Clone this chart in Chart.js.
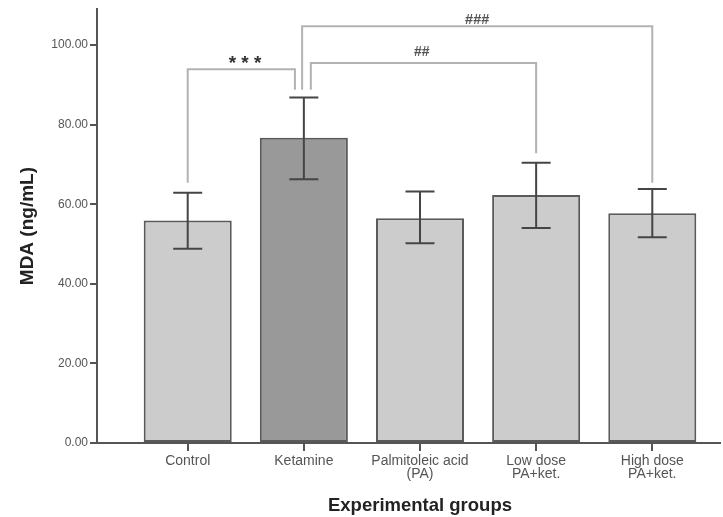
<!DOCTYPE html>
<html><head><meta charset="utf-8">
<script src="https://cdn.jsdelivr.net/npm/chart.js@4/dist/chart.umd.min.js"></script>
<style>html,body{margin:0;padding:0;background:#fff;} #wrap{width:723px;height:517px;position:relative;}</style>
</head><body><div id="wrap"><canvas id="c"></canvas></div>
<script>
// ---- data ----
const categories = [["Control"], ["Ketamine"], ["Palmitoleic acid", "(PA)"], ["Low dose", "PA+ket."], ["High dose", "PA+ket."]];
const meanMDA = [55.9, 76.7, 56.5, 62.3, 57.7];
const errLower = [48.8, 66.3, 50.2, 54.0, 51.7];
const errUpper = [62.9, 86.8, 63.2, 70.4, 63.8];
const yTickValues = [0, 20, 40, 60, 80, 100];
const xTitle = 'Experimental groups';
const yTitle = 'MDA (ng/mL)';
// significance brackets
const sigLabels = ["* * *", "##", "###"];
const sigFrom = [0, 1, 1];
const sigTo = [1, 3, 4];
const sigTop = [93.9, 95.5, 104.7];
const sigLeftEnd = [65.4, 88.75, 88.75];
const sigRightEnd = [88.75, 72.8, 65.4];

const barColors = ['#cccccc', '#999999', '#cccccc', '#cccccc', '#cccccc'];
const FONT = '"Liberation Sans", Arial, sans-serif';

const errorBars = {
  id: 'errorBars',
  afterDatasetsDraw(chart) {
    const xs = chart.scales.x, ys = chart.scales.y, ctx = chart.ctx;
    ctx.save();
    ctx.strokeStyle = '#454545';
    ctx.lineWidth = 2;
    const half = 14.5;
    meanMDA.forEach((m, i) => {
      const x = xs.getPixelForValue(i);
      const yl = ys.getPixelForValue(errLower[i]);
      const yh = ys.getPixelForValue(errUpper[i]);
      ctx.beginPath();
      ctx.moveTo(x, yl); ctx.lineTo(x, yh);
      ctx.moveTo(x - half, yl); ctx.lineTo(x + half, yl);
      ctx.moveTo(x - half, yh); ctx.lineTo(x + half, yh);
      ctx.stroke();
    });
    ctx.restore();
  }
};

const sigBrackets = {
  id: 'sigBrackets',
  afterDraw(chart, args, opts) {
    const xs = chart.scales.x, ys = chart.scales.y, ctx = chart.ctx;
    ctx.save();
    ctx.strokeStyle = '#b2b2b2';
    ctx.lineWidth = 2;
    sigLabels.forEach((lab, k) => {
      const x1 = xs.getPixelForValue(sigFrom[k] + opts.fromNudge[k]);
      const x2 = xs.getPixelForValue(sigTo[k] + opts.toNudge[k]);
      const yt = ys.getPixelForValue(sigTop[k]);
      const y1 = ys.getPixelForValue(sigLeftEnd[k]);
      const y2 = ys.getPixelForValue(sigRightEnd[k]);
      ctx.beginPath();
      ctx.moveTo(x1, y1); ctx.lineTo(x1, yt); ctx.lineTo(x2, yt); ctx.lineTo(x2, y2);
      ctx.stroke();
      ctx.fillStyle = opts.colors[k];
      ctx.font = opts.fonts[k];
      ctx.textAlign = 'center';
      ctx.textBaseline = 'alphabetic';
      ctx.fillText(lab, (x1 + x2) / 2 + opts.textNudge[k], yt - opts.gap[k]);
    });
    // x axis title, centred on the category range
    ctx.fillStyle = '#222222';
    ctx.font = 'bold 18.5px ' + FONT;
    ctx.textAlign = 'center';
    ctx.textBaseline = 'alphabetic';
    ctx.fillText(xTitle, xs.getPixelForValue((categories.length - 1) / 2), chart.height - 6);
    ctx.restore();
  }
};

new Chart(document.getElementById('c'), {
  type: 'bar',
  data: {
    datasets: [{
      data: meanMDA.map((v, i) => ({ x: i, y: v })),
      backgroundColor: barColors,
      borderColor: '#5a5a5a',
      borderWidth: 2,
      borderSkipped: false,
      categoryPercentage: 1,
      barPercentage: 0.758
    }]
  },
  options: {
    responsive: true,
    maintainAspectRatio: false,
    animation: false,
    devicePixelRatio: 1,
    layout: { padding: { top: 9, right: 3, left: 0, bottom: 0 } },
    plugins: {
      legend: { display: false },
      tooltip: { enabled: false },
      sigBrackets: {
        fromNudge: [0, 0.06, -0.015],
        toNudge: [-0.077, 0, 0],
        textNudge: [3.7, -1.8, 0],
        gap: [0.5, 7.3, 2.7],
        fonts: ['bold 19px ' + FONT, 'bold 14px ' + FONT, 'bold 14.5px ' + FONT],
        colors: ['#333333', '#555555', '#555555']
      }
    },
    scales: {
      x: {
        type: 'linear',
        offset: false,
        min: -0.781,
        max: 4.583,
        afterBuildTicks(scale) { scale.ticks = categories.map((_, i) => ({ value: i })); },
        afterFit(scale) { scale.height = 74; },
        ticks: {
          autoSkip: false,
          maxRotation: 0,
          minRotation: 0,
          padding: 4,
          color: '#555555',
          font: { family: FONT, size: 14, lineHeight: 0.92 },
          callback: (v) => categories[v]
        },
        grid: { display: true, offset: false, drawOnChartArea: false, drawTicks: true, tickLength: 8, color: '#555555', lineWidth: 2 },
        border: { display: true, color: '#555555', width: 2 },
        title: { display: false }
      },
      y: {
        min: 0,
        max: 109,
        afterBuildTicks(scale) { scale.ticks = yTickValues.map(v => ({ value: v })); },
        afterFit(scale) { scale.width = 97; },
        ticks: {
          padding: 2,
          color: '#555555',
          font: { family: FONT, size: 12 },
          callback: (v) => v.toFixed(2)
        },
        grid: { display: true, drawOnChartArea: false, drawTicks: true, tickLength: 7, color: '#555555', lineWidth: 2 },
        border: { display: true, color: '#555555', width: 2 },
        title: {
          display: true,
          text: yTitle,
          color: '#222222',
          font: { family: FONT, size: 19, weight: 'bold' },
          padding: { top: 16, bottom: 0 }
        }
      }
    }
  },
  plugins: [errorBars, sigBrackets]
});
</script>
</body></html>
